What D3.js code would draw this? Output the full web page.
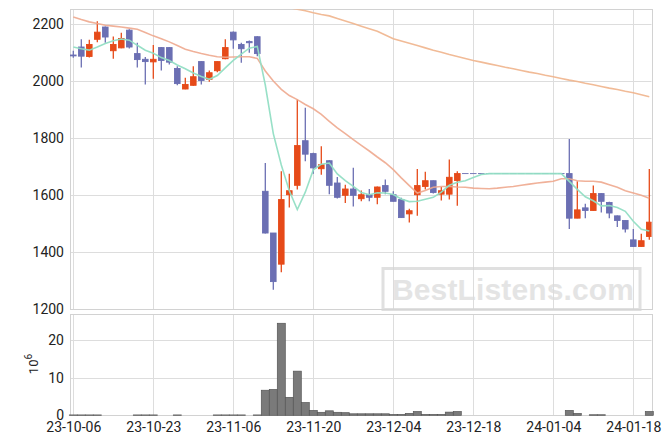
<!DOCTYPE html>
<html><head><meta charset="utf-8">
<script src="https://cdn.jsdelivr.net/npm/d3@7"></script>
<style>body{margin:0;background:#fff}svg{display:block}</style>
</head><body><svg id="c" width="671" height="444"></svg>
<script>
const dates = ["23-10-06","23-10-10","23-10-11","23-10-12","23-10-13","23-10-16","23-10-17","23-10-18","23-10-19","23-10-20",
"23-10-23","23-10-24","23-10-25","23-10-26","23-10-27","23-10-30","23-10-31","23-11-01","23-11-02","23-11-03",
"23-11-06","23-11-07","23-11-08","23-11-09","23-11-10","23-11-13","23-11-14","23-11-15","23-11-16","23-11-17",
"23-11-20","23-11-21","23-11-22","23-11-23","23-11-24","23-11-27","23-11-28","23-11-29","23-11-30","23-12-01",
"23-12-04","23-12-05","23-12-06","23-12-07","23-12-08","23-12-11","23-12-12","23-12-13","23-12-14","23-12-15",
"23-12-18","23-12-19","23-12-20","23-12-21","23-12-22","23-12-26","23-12-27","23-12-28","24-01-02","24-01-03",
"24-01-04","24-01-05","24-01-08","24-01-09","24-01-10","24-01-11","24-01-12","24-01-15","24-01-16","24-01-17",
"24-01-18","24-01-19","24-01-22"];
const opens = [2090,2118,2085,2145,2188,2105,2115,2177,2095,2075,2066,2116,2116,2043,1971,1984,2067,2005,2035,2077,
2170,2127,2137,2154,1613,1467,1358,1601,1634,1790,1745,1692,1720,1642,1599,1621,1587,1601,1592,1633,
1601,1584,1534,1601,1630,1650,1603,1603,1651,1675,1675,1675,1675,1675,1675,1675,1675,1675,1675,1675,
1675,1675,1675,1519,1555,1546,1605,1574,1527,1511,1443,1420,1455];
const highs = [2105,2145,2143,2208,2190,2155,2168,2180,2133,2083,2125,2118,2117,2051,2010,2051,2068,2036,2068,2145,
2172,2133,2141,2156,1712,1467,1683,1674,1934,1905,1748,1771,1722,1663,1636,1695,1616,1621,1630,1654,
1613,1590,1552,1691,1681,1651,1628,1724,1683,1675,1675,1675,1675,1675,1675,1675,1675,1675,1675,1675,
1675,1675,1796,1648,1569,1633,1606,1576,1528,1512,1481,1464,1691];
const lows = [2080,2046,2081,2135,2133,2077,2114,2113,2046,1987,2007,2036,2057,1984,1970,1982,1987,1996,2030,2075,
2112,2063,2098,2086,1465,1268,1330,1556,1619,1718,1674,1671,1603,1588,1572,1560,1578,1578,1568,1603,
1577,1520,1504,1527,1619,1605,1581,1584,1562,1675,1675,1675,1675,1675,1675,1675,1675,1675,1675,1675,
1675,1675,1481,1519,1519,1545,1539,1519,1488,1469,1418,1419,1443];
const closes = [2087,2086,2127,2170,2153,2127,2148,2118,2074,2067,2075,2071,2065,1990,1987,2014,2001,2028,2067,2116,
2143,2112,2133,2095,1467,1297,1584,1615,1773,1743,1695,1706,1634,1592,1621,1599,1601,1592,1628,1613,
1578,1521,1545,1633,1650,1609,1615,1662,1675,1675,1675,1675,1675,1675,1675,1675,1675,1675,1675,1675,
1675,1675,1519,1548,1546,1605,1578,1537,1511,1481,1420,1440,1505];
const volumes = [0.1,0.1,0.1,0.1,0,0,0,0,0.1,0.1,0.1,0,0,0.1,0,0,0,0,0.1,0.1,
0.1,0.1,0,0.1,6.7,6.9,24.6,4.8,11.8,3.4,1.3,0.8,1.2,0.8,0.7,0.4,0.4,0.4,0.4,0.4,
0.2,0.2,0.5,1.0,0.2,0.2,0.2,0.85,1.0,0,0,0,0,0,0,0,0,0,0,0,
0,0,1.3,0.5,0,0.15,0.15,0,0,0,0,0,1.0];
const ma5 = [2118,2112,2107,2118,2130,2140,2146,2142,2124,2107,2096,2081,2071,2055,2042,2027,2015,2005,2018,2045,
2071,2093,2114,2120,1985,1815,1705,1615,1549,1610,1688,1708,1712,1674,1650,1630,1609,1601,1608,1607,
1602,1586,1577,1578,1585,1592,1610,1634,1645,1650,1661,1672,1675,1675,1675,1675,1675,1675,1675,1675,
1675,1675,1648,1620,1594,1580,1562,1563,1556,1543,1508,1480,1474];
const ma20 = [2223,2214,2206,2200,2194,2191,2188,2184,2180,2169,2157,2147,2136,2123,2110,2102,2095,2089,2084,2082,
2083,2084,2084,2078,2034,1999,1970,1948,1934,1917,1902,1882,1858,1835,1815,1794,1774,1754,1733,1713,
1689,1660,1633,1607,1616,1627,1630,1630,1628,1627,1624,1623,1622,1624,1627,1630,1634,1638,1642,1645,
1648,1657,1657,1650,1648,1648,1645,1636,1627,1615,1607,1599,1589];
const ma60 = [null,null,null,null,null,null,null,null,null,null,null,null,null,null,null,null,null,null,null,null,
null,null,null,null,null,null,2262,2256,2250,2245,2238,2232,2227,2218,2209,2200,2191,2182,2173,2160,
2147,2139,2131,2123,2115,2107,2100,2092,2085,2078,2071,2065,2059,2053,2047,2042,2036,2030,2025,2019,
2014,2008,2002,1997,1991,1986,1980,1974,1969,1963,1958,1951,1944];
const priceTicks = [1200,1400,1600,1800,2000,2200];
const volTicks = [0,10,20];
const dateTickIdx = [0,10,20,30,40,50,60,70];

const svg = d3.select('#c');
const P = {l:70, r:651.5, t:9.3, b:309.3};
const V = {t:314.3, b:415.3};
const x = d3.scaleLinear().domain([0,72]).range([73.3,649.3]);
const y = d3.scaleLinear().domain([1200,2250]).range([P.b,P.t]);
const yv = d3.scaleLinear().domain([0,27]).range([V.b,V.t]);
const grid = '#dddddd', border='#d2d2d2';
const UP = '#e64a19', DOWN = '#6b6fb3';
const px = v => Math.round(v)+0.5;

svg.append('defs').append('clipPath').attr('id','clipMain')
  .append('rect').attr('x',P.l).attr('y',P.t).attr('width',P.r-P.l).attr('height',P.b-P.t);

const g = svg.append('g');
g.selectAll('.hg').data(priceTicks).join('line')
  .attr('x1',P.l).attr('x2',P.r).attr('y1',d=>px(y(d))).attr('y2',d=>px(y(d)))
  .attr('stroke',grid).attr('stroke-width',1);
g.selectAll('.vg').data(dateTickIdx).join('line')
  .attr('x1',d=>px(x(d))).attr('x2',d=>px(x(d))).attr('y1',P.t).attr('y2',P.b)
  .attr('stroke',grid);
g.selectAll('.hv').data(volTicks).join('line')
  .attr('x1',P.l).attr('x2',P.r).attr('y1',d=>px(yv(d))).attr('y2',d=>px(yv(d)))
  .attr('stroke',grid);
g.selectAll('.vv').data(dateTickIdx).join('line')
  .attr('x1',d=>px(x(d))).attr('x2',d=>px(x(d))).attr('y1',V.t).attr('y2',V.b)
  .attr('stroke',grid);
[[P.t,P.b],[V.t,V.b]].forEach(([t,b])=>{
  svg.append('rect').attr('x',px(P.l)).attr('y',px(t)).attr('width',Math.round(P.r-P.l)).attr('height',Math.round(b-t))
    .attr('fill','none').attr('stroke',border);
});

const wm = svg.append('g').attr('opacity',0.75);
wm.append('rect').attr('x',383).attr('y',268.5).attr('width',257).attr('height',41)
  .attr('fill','none').attr('stroke','#d6d6d6').attr('stroke-width',3);
wm.append('text').attr('x',392).attr('y',300).attr('textLength',242)
  .attr('font-family','Liberation Sans, Arial, sans-serif').attr('font-weight','bold').attr('font-size',30)
  .attr('fill','#dcdcdc').text('BestListens.com');

const data = dates.map((d,i)=>({i,o:opens[i],h:highs[i],l:lows[i],c:closes[i],v:volumes[i]}));
const cg = svg.append('g').attr('clip-path','url(#clipMain)');
const bw = 5.6;
const cd = cg.selectAll('g.cd').data(data).join('g');
cd.append('line').attr('x1',d=>x(d.i)).attr('x2',d=>x(d.i)).attr('y1',d=>y(d.h)).attr('y2',d=>y(d.l))
  .attr('stroke',d=>d.c>d.o?UP:DOWN).attr('stroke-width',1.3);
cd.append('rect').attr('x',d=>x(d.i)-bw/2).attr('width',bw)
  .attr('y',d=>y(Math.max(d.o,d.c))).attr('height',d=>Math.max(0.01,Math.abs(y(d.o)-y(d.c))))
  .attr('fill',d=>d.c>d.o?UP:DOWN).attr('stroke',d=>d.c>d.o?UP:DOWN).attr('stroke-width',0.9);

const line = arr => d3.line().defined(d=>arr[d]!=null).x(d=>x(d)).y(d=>y(arr[d]))(d3.range(arr.length));
cg.append('path').attr('d',line(ma60)).attr('fill','none').attr('stroke','#f0b48c').attr('stroke-width',1.6).attr('opacity',0.9);
cg.append('path').attr('d',line(ma20)).attr('fill','none').attr('stroke','#eea98e').attr('stroke-width',1.6).attr('opacity',0.9);
cg.append('path').attr('d',line(ma5)).attr('fill','none').attr('stroke','#92dec4').attr('stroke-width',1.6).attr('opacity',0.95);

svg.append('g').selectAll('rect').data(data.filter(d=>d.v>0)).join('rect')
  .attr('x',d=>x(d.i)-4).attr('width',8).attr('y',d=>yv(d.v)).attr('height',d=>V.b-yv(d.v))
  .attr('fill','#7a7a7a').attr('stroke','#555').attr('stroke-width',0.7);

const font = 'Roboto, sans-serif';
const ya = svg.append('g').attr('transform',`translate(${P.l},0)`)
  .call(d3.axisLeft(y).tickValues(priceTicks).tickFormat(d3.format('d')).tickSize(0).tickPadding(6));
const yva = svg.append('g').attr('transform',`translate(${P.l},0)`)
  .call(d3.axisLeft(yv).tickValues(volTicks).tickFormat(d3.format('d')).tickSize(0).tickPadding(6));
const xa = svg.append('g').attr('transform',`translate(0,${V.b})`)
  .call(d3.axisBottom(x).tickValues(dateTickIdx).tickFormat(i=>dates[i]).tickSize(0).tickPadding(6.5));
[ya,yva,xa].forEach(a=>{
  a.select('.domain').remove();
  a.selectAll('text').attr('font-family',font).attr('font-size',14).attr('fill','#222');
});

const ul = svg.append('text').attr('transform','translate(38,364) rotate(-90)')
  .attr('font-family',font).attr('font-size',13).attr('fill','#222').attr('text-anchor','middle');
ul.append('tspan').text('10');
ul.append('tspan').attr('dy',-6).attr('font-size',10).text('6');
</script></body></html>
